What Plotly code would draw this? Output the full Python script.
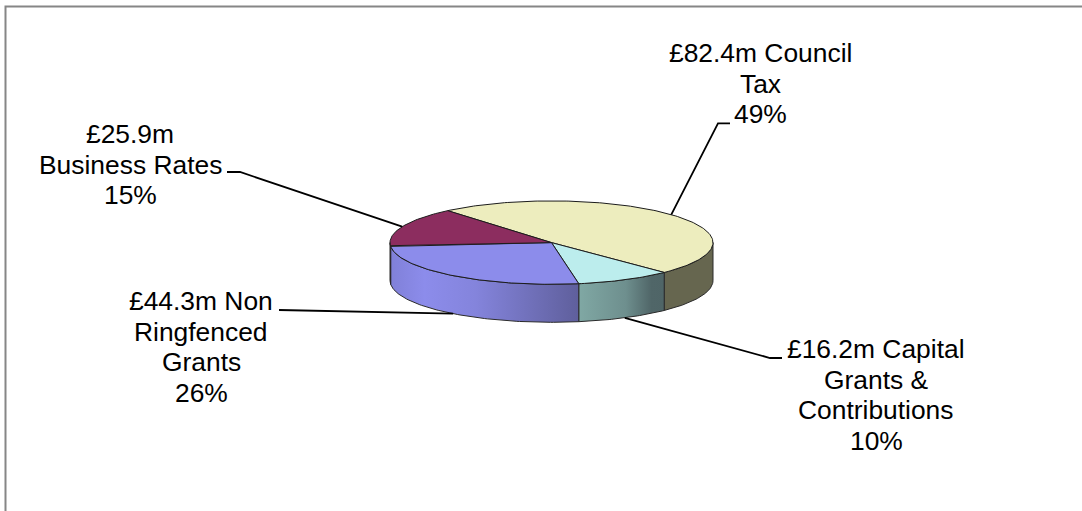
import math
import plotly.graph_objects as go

# Data, clockwise from the start angle
categories = ["Council Tax", "Capital Grants & Contributions", "Non Ringfenced Grants", "Business Rates"]
values_m = [82.4, 16.2, 44.3, 25.9]
percent_labels = ["49%", "10%", "26%", "15%"]
label_lines = [
    ["£82.4m Council", "Tax"],
    ["£16.2m Capital", "Grants &", "Contributions"],
    ["£44.3m Non", "Ringfenced", "Grants"],
    ["£25.9m", "Business Rates"],
]

# Styles
top_colors = ["#EDEDBE", "#BCEDED", "#8C8CEB", "#8C2D5F"]
wall_scales = [
    [[0, "#66664F"], [1, "#66664F"]],
    [[0, "#80A8A4"], [0.55, "#6E8F8E"], [0.85, "#506668"], [1, "#4F6567"]],
    [[0, "#8080D8"], [0.18, "#8C8CEB"], [0.45, "#8484DC"], [1, "#5F5F9C"]],
    [[0, "#6E2348"], [1, "#6E2348"]],
]
EDGE = "#1c1c1c"
FRAME = "#868686"
FONT = "Liberation Sans"
FONT_SIZE = 26.4
LINE_STEP = 30.7

# Layout, in page pixels
CX, CY, RX, RY, DEPTH = 551.5, 242.6, 161.5, 41.7, 38
START_ANGLE = 130.0
label_centers = [(760, 53), (876, 349), (201, 301), (130, 134)]
elbows = [[(718, 123.3), (730, 123.3)], [(770, 358), (782, 358)],
          [(291, 310), (279, 310)], [(240, 172), (227, 172)]]


def px(t, drop=0.0):
    r = math.radians(t)
    return CX + RX * math.cos(r), CY - RY * math.sin(r) + drop


def arc(t0, t1, drop=0.0):
    n = max(2, int(abs(t1 - t0)) + 1)
    pts = [px(t0 + (t1 - t0) * i / (n - 1), drop) for i in range(n)]
    return [p[0] for p in pts], [p[1] for p in pts]


total = sum(values_m)
spans = []
a = START_ANGLE
for v in values_m:
    b = a - v / total * 360
    spans.append((a, b))
    a = b

fig = go.Figure()

# Side walls: the front half of the ellipse only (angles 0 down to -180)
for (a0, a1), scale, name in zip(spans, wall_scales, categories):
    hi = min(a0, 0.0)
    lo = max(a1, -180.0)
    if hi <= lo:
        continue
    xt, yt = arc(hi, lo)
    xb, yb = arc(lo, hi, DEPTH)
    fig.add_trace(go.Scatter(
        x=xt + xb + [xt[0]], y=yt + yb + [yt[0]], mode="lines", fill="toself",
        fillgradient=dict(type="horizontal", colorscale=scale),
        line=dict(color="#2a2a2a", width=1), hoverinfo="text", text=name, showlegend=False))

# Top faces
for (a0, a1), color, name, pct in zip(spans, top_colors, categories, percent_labels):
    xa, ya = arc(a0, a1)
    fig.add_trace(go.Scatter(
        x=[CX] + xa + [CX], y=[CY] + ya + [CY], mode="lines", fill="toself", fillcolor=color,
        line=dict(color=EDGE, width=1), hoverinfo="text", text=f"{name} {pct}", showlegend=False))

# Leader lines from each slice's mid angle
for (a0, a1), elbow in zip(spans, elbows):
    mid = (a0 + a1) / 2
    drop = DEPTH if math.sin(math.radians(mid)) < 0 else 0.0
    x0, y0 = px(mid, drop)
    fig.add_trace(go.Scatter(
        x=[x0, elbow[0][0], elbow[1][0]], y=[y0, elbow[0][1], elbow[1][1]], mode="lines",
        line=dict(color="#000000", width=1.8), hoverinfo="skip", showlegend=False))

annotations = []
for lines, pct, (lx, ly) in zip(label_lines, percent_labels, label_centers):
    for i, txt in enumerate(lines + [pct]):
        annotations.append(dict(x=lx, y=ly + i * LINE_STEP, text=txt, showarrow=False,
                                xref="x", yref="y", xanchor="center", yanchor="middle",
                                font=dict(family=FONT, size=FONT_SIZE, color="#000000")))

fig.update_layout(
    width=1082, height=511, margin=dict(l=0, r=0, t=0, b=0),
    paper_bgcolor="#FFFFFF", plot_bgcolor="#FFFFFF", showlegend=False,
    xaxis=dict(range=[0, 1082], visible=False, fixedrange=True),
    yaxis=dict(range=[511, 0], visible=False, fixedrange=True),
    annotations=annotations,
    shapes=[dict(type="rect", xref="x", yref="y", x0=5.5, y0=6.5, x1=1095, y1=530,
                 line=dict(color=FRAME, width=2), layer="below")],
)

fig.write_html("out.html", config={"displayModeBar": False},
               post_script="document.body.style.margin='0';document.body.style.overflow='hidden';")
